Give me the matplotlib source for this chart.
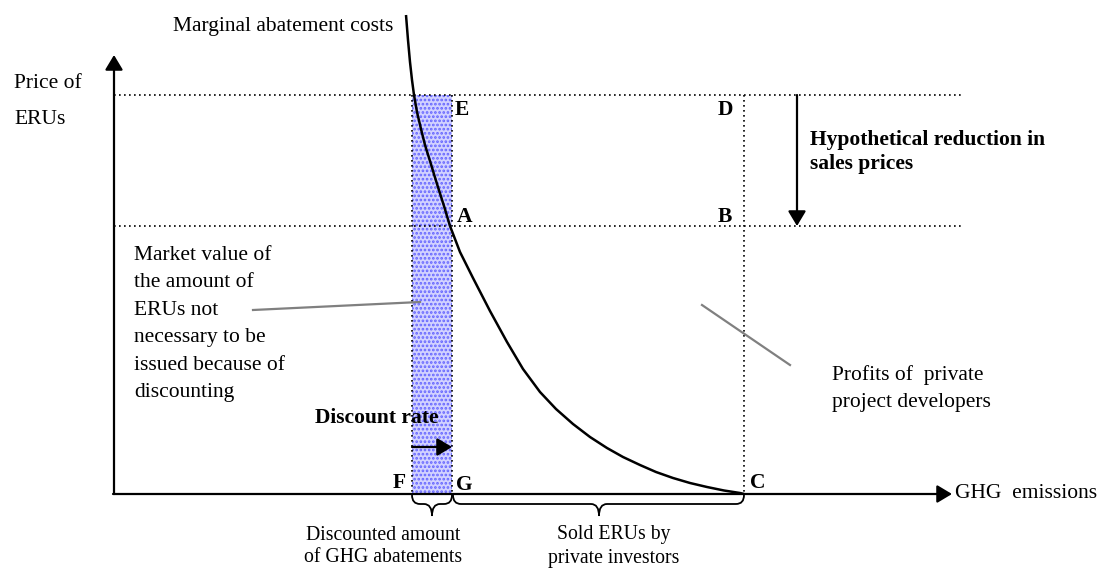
import matplotlib
matplotlib.use("Agg")
import matplotlib.pyplot as plt
from matplotlib.path import Path
from matplotlib.patches import PathPatch, Rectangle

plt.rcParams['font.family'] = ['Liberation Serif', 'DejaVu Serif']
plt.rcParams['hatch.linewidth'] = 1.3

# ---- diagram values (canvas units: x to the right, y downward) ----
axis_origin = (114, 494)
y_axis_top = 55
x_axis_end = 952
price_high = 95          # E / D level
price_low = 226          # A / B level
line_end_x = 963         # extent of the dotted price lines
x_F = 412
x_G = 452
x_C = 744
arrow_reduction_x = 797
discount_arrow_y = 447

# marginal abatement cost curve
mac_x = [406, 408, 410, 412, 414, 417, 421, 425, 430, 437, 444, 450, 460, 473,
         490, 507, 523, 540, 556, 573, 590, 607, 623, 640, 656, 673, 690, 707,
         724, 740, 744]
mac_y = [15, 40, 62, 80, 95, 112, 129, 145, 161, 184, 206, 226, 252, 278,
         311, 342, 369, 392, 409, 424, 437, 448, 457, 465, 472, 478, 483, 487,
         490.5, 493, 494]

point_labels = ['E', 'A', 'D', 'B', 'F', 'G', 'C']
point_pos = [(455, 110), (457, 217), (718, 110), (718, 217),
             (393, 483), (456, 485), (750, 483)]

fig = plt.figure(figsize=(11.13, 5.70), dpi=100)
ax = fig.add_axes([0, 0, 1, 1])
ax.set_xlim(0, 1113)
ax.set_ylim(570, 0)
ax.axis('off')

FS = 15.5
dot = (0, (1, 2))
head = '-|>,head_length=0.5,head_width=0.3'

# shaded rectangle (discounted ERUs)
ax.add_patch(Rectangle((x_F, price_high), x_G - x_F, axis_origin[1] - price_high,
                       facecolor='#d2d2ff', edgecolor='#6464ff', hatch='....',
                       lw=0, zorder=1))
for xx in (x_F, x_G):
    ax.plot([xx, xx], [price_high, axis_origin[1]], color='black', lw=1.2,
            linestyle=dot, zorder=2)

# dotted price lines
for yy in (price_high, price_low):
    ax.plot([axis_origin[0], line_end_x], [yy, yy], color='black', lw=1.2,
            linestyle=dot, zorder=2)
# dotted vertical at C
ax.plot([x_C, x_C], [price_high, axis_origin[1]], color='black', lw=1.2,
        linestyle=dot, zorder=2)


def arrow(p_from, p_to):
    ax.annotate('', xy=p_to, xytext=p_from,
                arrowprops=dict(arrowstyle=head, lw=1.6, color='black',
                                mutation_scale=18, shrinkA=0, shrinkB=0),
                zorder=3)


# axes with arrows
arrow(axis_origin, (axis_origin[0], y_axis_top))
arrow((axis_origin[0] - 1, axis_origin[1]), (x_axis_end, axis_origin[1]))

# marginal abatement cost curve
ax.plot(mac_x, mac_y, color='black', lw=1.8, zorder=4, solid_capstyle='butt',
        solid_joinstyle='round')

# reduction arrow and discount rate arrow
arrow((arrow_reduction_x, price_high), (arrow_reduction_x, price_low))
arrow((x_F, discount_arrow_y), (x_G, discount_arrow_y))


def brace(x0, x1, xm, y0, h=9, tip=21, r=8):
    verts = [(x0, y0), (x0, y0 + h), (x0 + r, y0 + h),
             (xm - r, y0 + h),
             (xm, y0 + h), (xm, y0 + tip),
             (xm, y0 + h), (xm + r, y0 + h),
             (x1 - r, y0 + h),
             (x1, y0 + h), (x1, y0)]
    codes = [Path.MOVETO, Path.CURVE3, Path.CURVE3,
             Path.LINETO,
             Path.CURVE3, Path.CURVE3,
             Path.CURVE3, Path.CURVE3,
             Path.LINETO,
             Path.CURVE3, Path.CURVE3]
    ax.add_patch(PathPatch(Path(verts, codes), facecolor='none',
                           edgecolor='black', lw=1.3, zorder=3))


brace(x_F, x_G, (x_F + x_G) / 2, axis_origin[1] + 1)
brace(x_G + 1, x_C, 599, axis_origin[1] + 1)

# leader lines
ax.plot([253, 420], [310, 302], color='#808080', lw=1.6, zorder=3)
ax.plot([702, 790], [305, 365], color='#808080', lw=1.6, zorder=3)

# point labels
for lab, (px, py) in zip(point_labels, point_pos):
    ax.text(px, py, lab, fontsize=FS, fontweight='bold', ha='left', va='center')

# texts
ax.text(393, 27, 'Marginal abatement costs', fontsize=FS, ha='right', va='center')
ax.text(14, 83, 'Price of', fontsize=FS, ha='left', va='center')
ax.text(14, 120, 'ERUs', fontsize=FS, ha='left', va='center')

market_lines = ['Market value of', 'the amount of', 'ERUs not',
                'necessary to be', 'issued because of', 'discounting']
for i, t in enumerate(market_lines):
    ax.text(134, 255 + i * 27.6, t, fontsize=FS, ha='left', va='center')

ax.text(315, 418, 'Discount rate', fontsize=FS, fontweight='bold', ha='left', va='center')
ax.text(810, 140, 'Hypothetical reduction in', fontsize=FS, fontweight='bold',
        ha='left', va='center')
ax.text(810, 164, 'sales prices', fontsize=FS, fontweight='bold', ha='left', va='center')
ax.text(832, 375, 'Profits of  private', fontsize=FS, ha='left', va='center')
ax.text(832, 402, 'project developers', fontsize=FS, ha='left', va='center')
ax.text(955, 494, 'GHG  emissions', fontsize=FS, ha='left', va='center')

ax.text(460, 535, 'Discounted amount', fontsize=FS * 0.92, ha='right', va='center')
ax.text(462, 558, 'of GHG abatements', fontsize=FS * 0.92, ha='right', va='center')
ax.text(614, 535, 'Sold ERUs by', fontsize=FS * 0.92, ha='center', va='center')
ax.text(614, 558, 'private investors', fontsize=FS * 0.92, ha='center', va='center')

fig.savefig('out.png', dpi=100, facecolor='white')
